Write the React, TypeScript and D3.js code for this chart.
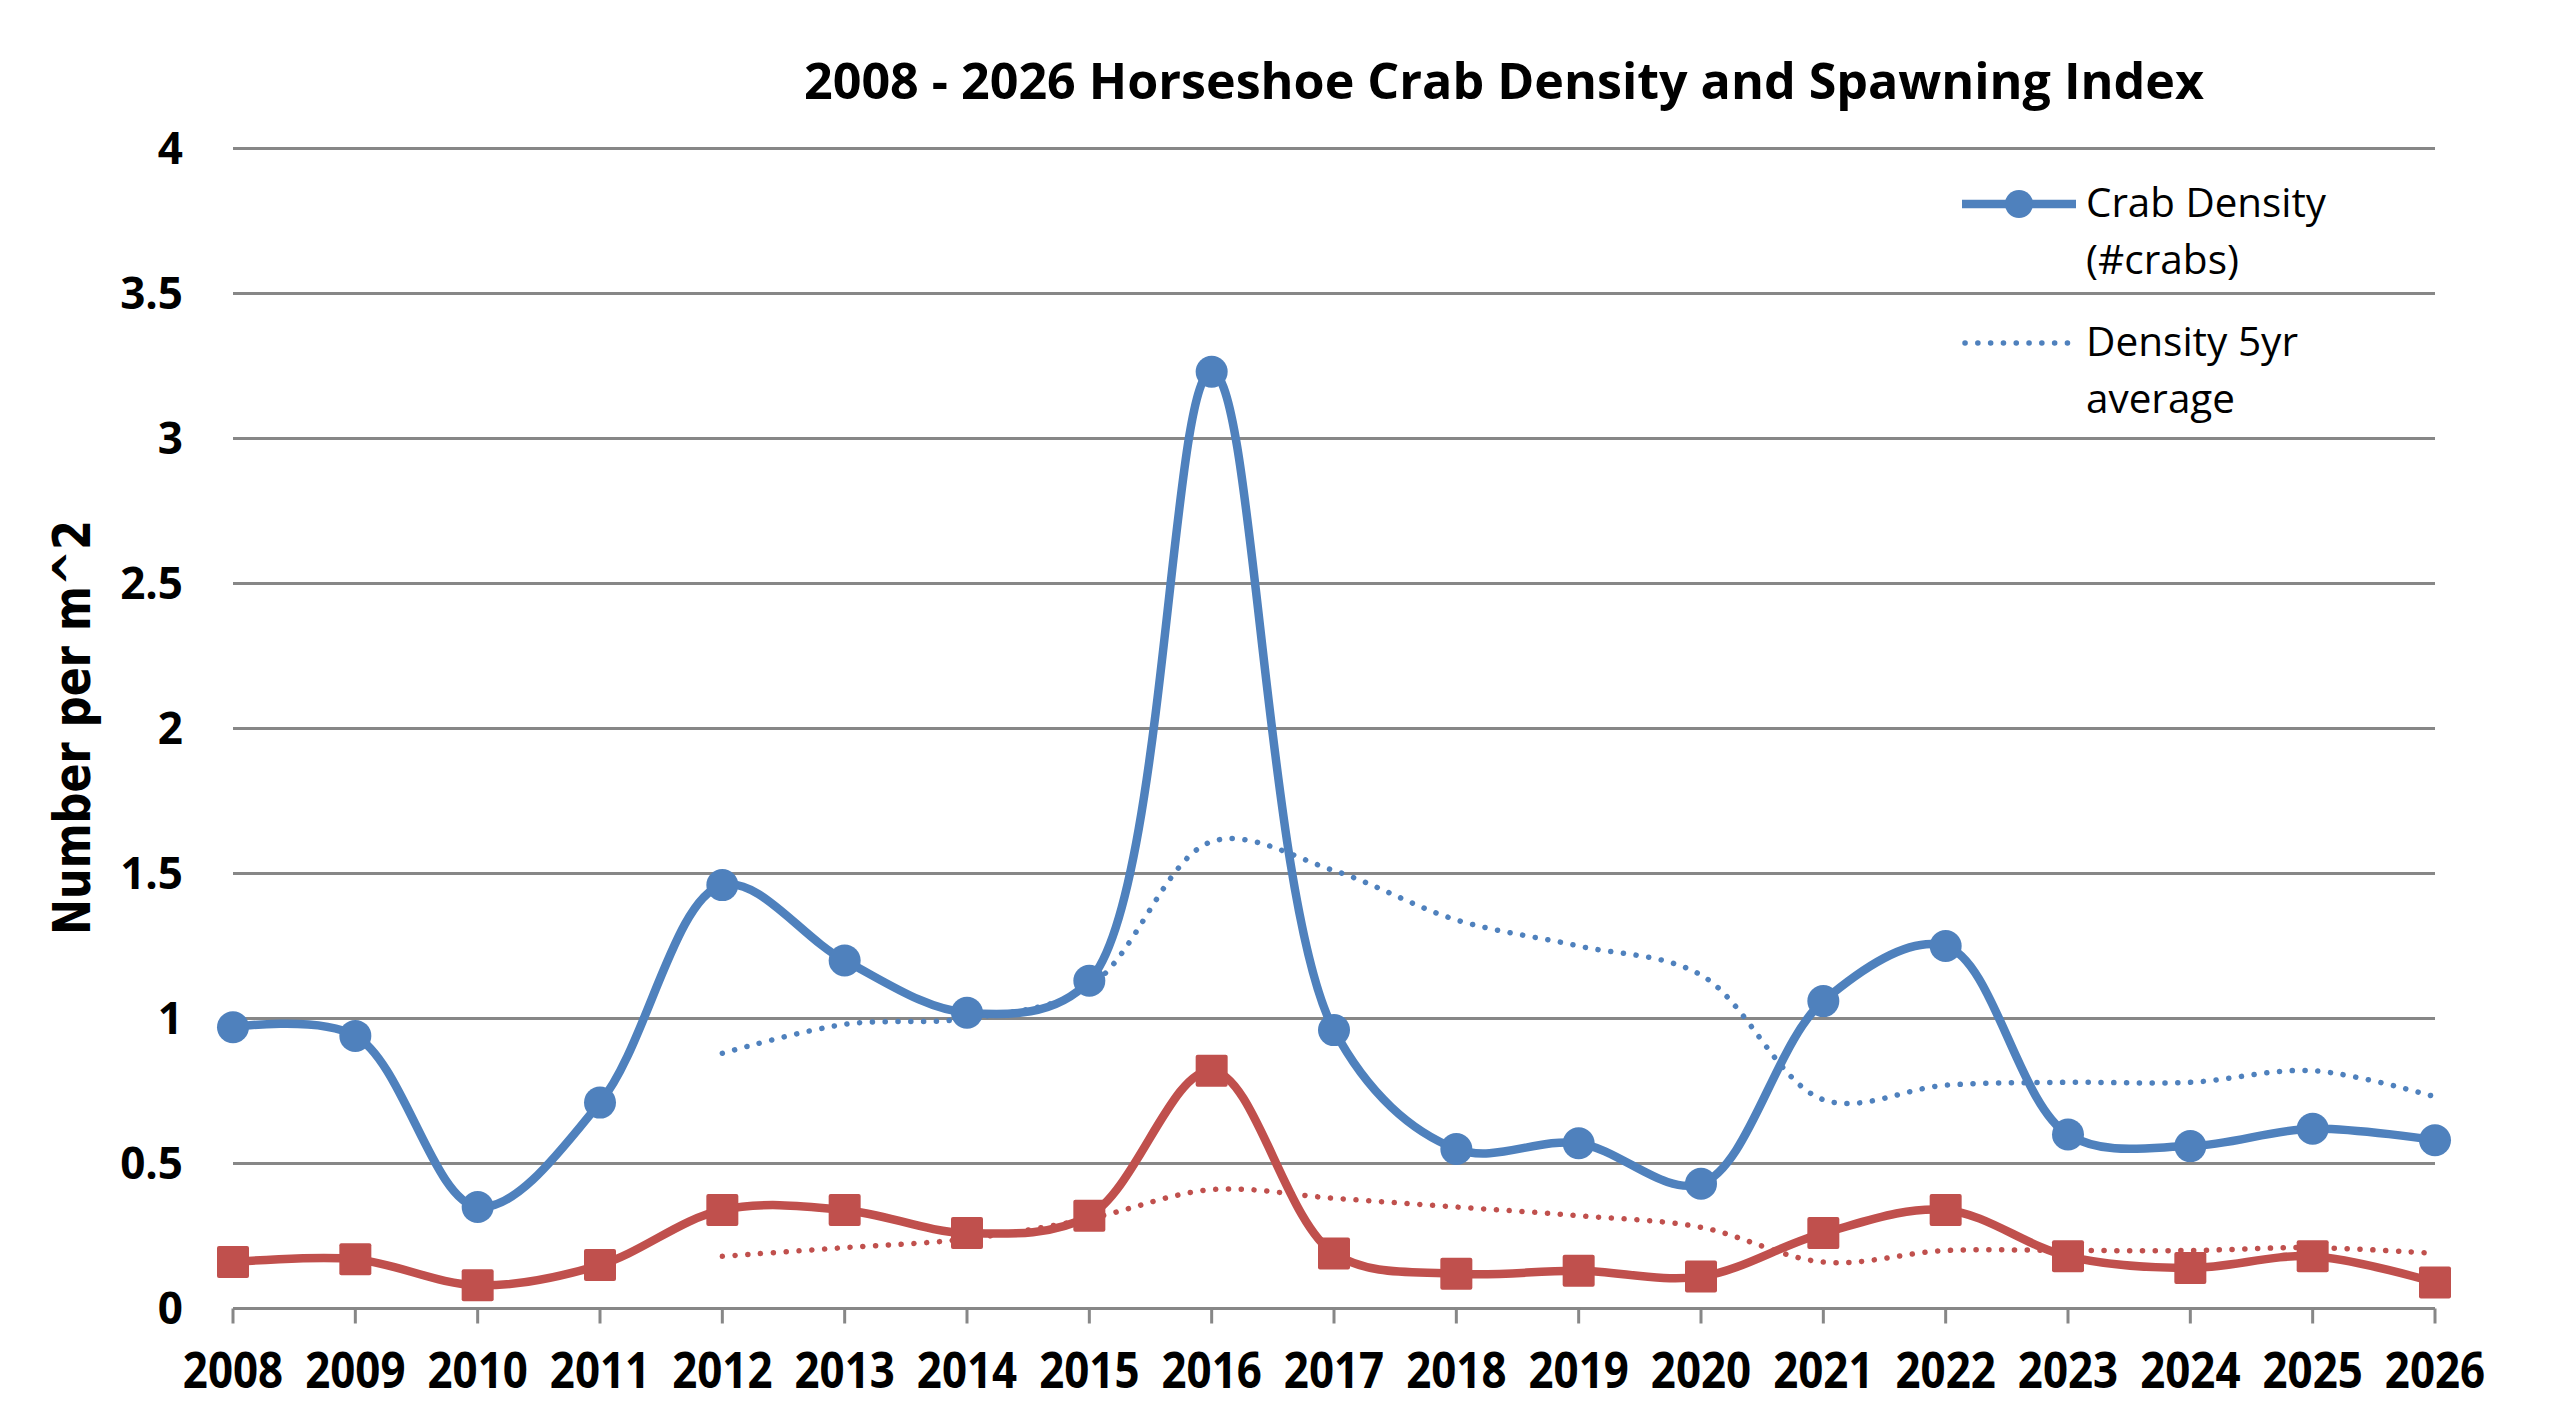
import { useEffect } from 'react'
import * as d3 from 'd3'

// Chart data
const years = [
  '2008', '2009', '2010', '2011', '2012', '2013', '2014', '2015', '2016', '2017',
  '2018', '2019', '2020', '2021', '2022', '2023', '2024', '2025', '2026',
]
const crabDensity = [0.97, 0.94, 0.35, 0.71, 1.46, 1.2, 1.02, 1.13, 3.23, 0.96, 0.55, 0.57, 0.43, 1.06, 1.25, 0.6, 0.56, 0.62, 0.58]
const density5yr = [null, null, null, null, 0.88, 0.98, 1.0, 1.11, 1.61, 1.51, 1.34, 1.25, 1.15, 0.72, 0.77, 0.78, 0.78, 0.82, 0.73]
const spawningIndex = [0.16, 0.17, 0.08, 0.15, 0.34, 0.34, 0.26, 0.32, 0.82, 0.19, 0.12, 0.13, 0.11, 0.26, 0.34, 0.18, 0.14, 0.18, 0.09]
const spawning5yr = [null, null, null, null, 0.18, 0.21, 0.24, 0.31, 0.41, 0.38, 0.35, 0.32, 0.28, 0.16, 0.2, 0.2, 0.2, 0.21, 0.19]
const yTicks = [0, 0.5, 1, 1.5, 2, 2.5, 3, 3.5, 4]
const yTickLabels = ['0', '0.5', '1', '1.5', '2', '2.5', '3', '3.5', '4']

const title = '2008 - 2026 Horseshoe Crab Density and Spawning Index'
const yTitle = 'Number per m^2'

const BLUE = '#4F81BD'
const RED = '#C0504D'
const GRID = '#878787'

export default function App() {
  useEffect(() => {
    document.body.style.margin = '0'
  }, [])

  const width = 2560
  const height = 1413
  const margin = { top: 148.5, right: 125, bottom: 104.5, left: 233 }

  const x = d3.scalePoint<string>()
    .domain(years)
    .range([margin.left, width - margin.right])

  const y = d3.scaleLinear()
    .domain([0, 4])
    .range([height - margin.bottom, margin.top])

  const line = d3.line<number | null>()
    .defined(d => d != null)
    .x((_, i) => x(years[i]) ?? 0)
    .y(d => y(d as number))
    .curve(d3.curveCatmullRom)

  const dotted = { strokeDasharray: '0.1 12.7', strokeLinecap: 'round' as const, strokeWidth: 5.5 }
  const lineWidth = 8.5
  const sq = 32

  return (
    <svg width={width} height={height} style={{ display: 'block', background: '#fff' }}>
      {/* Title */}
      <text x={804} y={99} fontFamily="'Open Sans', sans-serif" fontWeight="bold" fontSize={50}
        textLength={1400} lengthAdjust="spacingAndGlyphs">{title}</text>

      {/* Gridlines */}
      {yTicks.map(t => (
        <line key={t} x1={margin.left} x2={width - margin.right} y1={y(t)} y2={y(t)}
          stroke={GRID} strokeWidth={3} />
      ))}

      {/* x tick marks */}
      {years.map(yr => (
        <line key={yr} x1={x(yr)} x2={x(yr)} y1={y(0)} y2={y(0) + 15} stroke={GRID} strokeWidth={3} />
      ))}

      {/* y tick labels */}
      {yTicks.map((t, i) => (
        <text key={t} x={183} y={y(t) + 15.5} textAnchor="end"
          fontFamily="'Open Sans', sans-serif" fontWeight="bold" fontSize={44}>{yTickLabels[i]}</text>
      ))}

      {/* x tick labels */}
      {years.map(yr => (
        <text key={yr} transform={`translate(${x(yr)},1388) scale(0.86,1)`} textAnchor="middle"
          fontFamily="'Open Sans', sans-serif" fontWeight="bold" fontSize={51}>{yr}</text>
      ))}

      {/* y axis title */}
      <text transform="translate(90,727.5) rotate(-90)" textAnchor="middle"
        fontFamily="'DejaVu Sans', sans-serif" fontWeight="bold" fontSize={52}
        textLength={415} lengthAdjust="spacingAndGlyphs">{yTitle}</text>

      {/* Moving averages */}
      <path d={line(density5yr) ?? ''} fill="none" stroke={BLUE} {...dotted} />
      <path d={line(spawning5yr) ?? ''} fill="none" stroke={RED} {...dotted} />

      {/* Crab density */}
      <path d={line(crabDensity) ?? ''} fill="none" stroke={BLUE} strokeWidth={lineWidth} strokeLinejoin="round" />
      {crabDensity.map((v, i) => (
        <circle key={i} cx={x(years[i])} cy={y(v)} r={16} fill={BLUE} />
      ))}

      {/* Spawning index */}
      <path d={line(spawningIndex) ?? ''} fill="none" stroke={RED} strokeWidth={lineWidth} strokeLinejoin="round" />
      {spawningIndex.map((v, i) => (
        <rect key={i} x={(x(years[i]) ?? 0) - sq / 2} y={y(v) - sq / 2} width={sq} height={sq} rx={2} fill={RED} />
      ))}

      {/* Legend */}
      <g fontFamily="'Open Sans', sans-serif" fontSize={41} fill="#000">
        <line x1={1962} x2={2076} y1={204} y2={204} stroke={BLUE} strokeWidth={lineWidth} />
        <circle cx={2019} cy={204} r={14} fill={BLUE} />
        <text x={2086} y={217} textLength={240} lengthAdjust="spacingAndGlyphs">Crab Density</text>
        <text x={2086} y={274} textLength={153} lengthAdjust="spacingAndGlyphs">(#crabs)</text>
        <line x1={1965} x2={2076} y1={343} y2={343} stroke={BLUE} {...dotted} />
        <text x={2086} y={356} textLength={212} lengthAdjust="spacingAndGlyphs">Density 5yr</text>
        <text x={2086} y={413} textLength={149} lengthAdjust="spacingAndGlyphs">average</text>
      </g>
    </svg>
  )
}
